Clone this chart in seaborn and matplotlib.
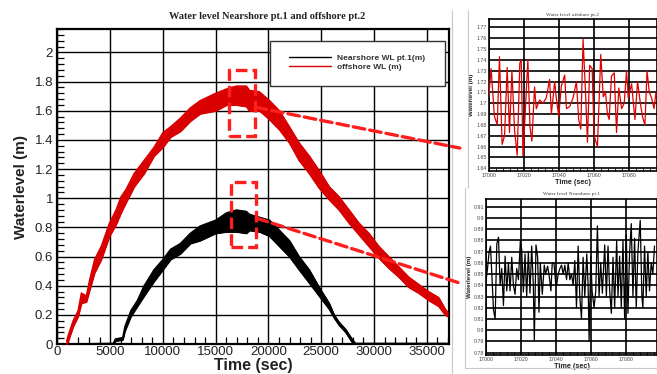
import matplotlib
matplotlib.use("Agg")
import numpy as np
import pandas as pd
import seaborn as sns
import matplotlib.pyplot as plt
from matplotlib.patches import Rectangle, ConnectionPatch
from matplotlib.lines import Line2D
from matplotlib.ticker import MultipleLocator, FuncFormatter

# ---------------- data ----------------
# offshore WL envelope (main chart)
off_t = [880, 1030, 1500, 1970, 2280, 2750, 3060, 3530, 4160, 4940,
         5560, 6030, 6500, 7280, 8220, 9160, 10000, 10720, 11660, 12600,
         13530, 15000, 16030, 16970, 17900, 18200, 19150, 20100, 21040, 21980,
         22900, 23860, 24800, 25750, 26690, 27630, 28570, 29510, 30460, 31400,
         32340, 33280, 34220, 35170, 36110, 36740, 36950]
off_lo = [0.00, 0.02, 0.12, 0.19, 0.28, 0.29, 0.37, 0.49, 0.58, 0.74,
          0.82, 0.90, 0.97, 1.08, 1.17, 1.29, 1.35, 1.42, 1.46, 1.53,
          1.58, 1.60, 1.64, 1.64, 1.63, 1.60, 1.60, 1.54, 1.47, 1.38,
          1.26, 1.17, 1.07, 0.99, 0.92, 0.83, 0.75, 0.67, 0.59, 0.52,
          0.46, 0.39, 0.35, 0.30, 0.26, 0.20, 0.19]
off_hi = [0.02, 0.06, 0.16, 0.23, 0.35, 0.33, 0.44, 0.58, 0.67, 0.83,
          0.92, 1.01, 1.06, 1.17, 1.26, 1.35, 1.45, 1.49, 1.55, 1.62,
          1.67, 1.72, 1.75, 1.77, 1.77, 1.74, 1.73, 1.67, 1.60, 1.49,
          1.38, 1.29, 1.19, 1.08, 1.01, 0.92, 0.83, 0.76, 0.67, 0.60,
          0.53, 0.46, 0.41, 0.36, 0.32, 0.24, 0.22]

# nearshore WL envelope (main chart)
near_t = [0, 5300, 5500, 6200, 6400, 6970, 7590, 8220, 9160, 10000,
          10720, 11660, 12600, 13530, 15000, 16030, 16970, 17900, 18200, 19150,
          20100, 21040, 21980, 22900, 23860, 24800, 25750, 26220, 26690, 27320,
          27950, 28260, 37000]
near_lo = [0, 0, 0.02, 0.03, 0.09, 0.19, 0.26, 0.33, 0.43, 0.51,
           0.58, 0.62, 0.69, 0.71, 0.76, 0.77, 0.77, 0.76, 0.78, 0.77,
           0.74, 0.67, 0.60, 0.51, 0.42, 0.33, 0.24, 0.18, 0.13, 0.08,
           0.01, 0, 0]
near_hi = [0, 0.005, 0.035, 0.045, 0.12, 0.23, 0.30, 0.40, 0.51, 0.58,
           0.65, 0.69, 0.76, 0.81, 0.85, 0.90, 0.92, 0.91, 0.89, 0.87,
           0.85, 0.78, 0.71, 0.60, 0.51, 0.39, 0.28, 0.20, 0.15, 0.10,
           0.03, 0.005, 0.005]

# zoomed offshore series (inset 1), seconds after 17000
zoom_t0 = 17000
off_zoom_dt = [0.0, 1.3, 3.2, 4.8, 6.1, 7.6, 9.0, 10.5, 11.8, 13.2,
               14.7, 16.2, 17.7, 18.5, 19.5, 20.6, 22.3, 23.5, 24.6, 26.1,
               27.1, 29.0, 30.9, 32.8, 34.7, 35.7, 37.6, 38.5, 39.9, 41.4,
               43.3, 44.3, 46.2, 48.1, 50.0, 51.3, 52.5, 53.8, 55.2, 56.3,
               57.6, 59.0, 60.1, 62.0, 63.9, 65.3, 66.6, 67.7, 68.7, 70.0,
               71.6, 72.9, 74.2, 75.8, 77.3, 78.6, 79.6, 81.5, 83.4, 84.9,
               86.5, 87.8, 89.1, 90.3, 91.6, 92.9, 94.3, 95.4]
off_zoom_wl = [1.706, 1.732, 1.688, 1.680, 1.743, 1.662, 1.670, 1.733, 1.673, 1.730,
               1.675, 1.652, 1.737, 1.740, 1.651, 1.685, 1.740, 1.678, 1.665, 1.715,
               1.695, 1.703, 1.700, 1.705, 1.722, 1.690, 1.720, 1.705, 1.688, 1.716,
               1.726, 1.695, 1.697, 1.705, 1.720, 1.685, 1.676, 1.759, 1.710, 1.664,
               1.735, 1.732, 1.670, 1.660, 1.745, 1.706, 1.710, 1.690, 1.685, 1.725,
               1.728, 1.673, 1.714, 1.695, 1.700, 1.730, 1.705, 1.718, 1.685, 1.720,
               1.700, 1.687, 1.680, 1.730, 1.710, 1.705, 1.695, 1.710]

# zoomed nearshore series (inset 2), seconds after 17000
near_zoom_dt = [0, 0.76, 1.71, 2.48, 3.24, 4.19, 5.14, 6.10, 7.05, 8.0,
                8.95, 9.90, 10.86, 11.81, 12.76, 13.71, 14.67, 15.62, 16.57, 17.52,
                18.48, 19.62, 20.38, 21.33, 22.29, 23.24, 24.19, 25.14, 26.10, 27.05,
                27.62, 28.57, 29.52, 30.29, 31.05, 32.19, 33.33, 34.10, 35.24, 36.19,
                37.14, 37.90, 38.86, 39.81, 40.38, 41.33, 42.29, 43.24, 44.19, 45.14,
                46.10, 47.05, 48.0, 48.95, 49.90, 50.86, 51.81, 52.76, 53.71, 54.67,
                55.62, 56.57, 57.71, 58.48, 59.05, 60.0, 60.76, 61.90, 62.86, 63.81,
                64.76, 65.71, 66.67, 68.0, 68.95, 69.90, 70.86, 71.81, 72.76, 73.71,
                74.86, 75.62, 76.57, 77.52, 78.48, 79.43, 80.38, 81.33, 82.29, 83.24,
                84.19, 85.14, 86.10, 87.05, 88.38, 89.33, 89.90, 90.86, 91.81, 92.76,
                93.71, 94.67, 95.62, 96.57]
near_zoom_wl = [0.845, 0.855, 0.870, 0.875, 0.850, 0.818, 0.810, 0.877, 0.883, 0.840,
                0.855, 0.822, 0.866, 0.835, 0.860, 0.835, 0.865, 0.840, 0.832, 0.855,
                0.845, 0.880, 0.872, 0.834, 0.868, 0.830, 0.870, 0.833, 0.875, 0.840,
                0.790, 0.876, 0.865, 0.816, 0.860, 0.832, 0.858, 0.850, 0.857, 0.848,
                0.835, 0.860, 0.860, 0.843, 0.840, 0.850, 0.855, 0.858, 0.850, 0.858,
                0.845, 0.860, 0.845, 0.850, 0.840, 0.862, 0.820, 0.875, 0.830, 0.810,
                0.865, 0.830, 0.868, 0.840, 0.790, 0.866, 0.835, 0.820, 0.835, 0.893,
                0.830, 0.860, 0.833, 0.876, 0.830, 0.875, 0.835, 0.815, 0.865, 0.820,
                0.880, 0.830, 0.866, 0.820, 0.880, 0.810, 0.885, 0.815, 0.870, 0.895,
                0.830, 0.882, 0.820, 0.870, 0.898, 0.830, 0.820, 0.875, 0.830, 0.870,
                0.835, 0.860, 0.850, 0.875]

# zoom windows marked on the main chart (time range, level range)
box_off = (16300, 18750, 1.43, 1.88)
box_near = (16450, 18850, 0.665, 1.11)
# where the dashed leaders leave the boxes
lead_off = (18750, 1.625)
lead_near = (18850, 0.864)

main_title = "Water level Nearshore pt.1 and offshore pt.2"
title_off = "Water level offshore pt.2"
title_near = "Water level Nearshore pt.1"
lab_near = "Nearshore WL pt.1(m)"
lab_off = "offshore WL (m)"

# ---------------- styling ----------------
sns.set_style("white")
plt.rcParams['font.family'] = ['Liberation Sans', 'DejaVu Sans']

RED = '#d80000'
DRED = '#ff1e1e'
fmt = FuncFormatter(lambda v, p: f"{v:g}")

fig = plt.figure(figsize=(6.57, 3.74), dpi=100)

# ---------------- main chart ----------------
ax = fig.add_axes([0.0872, 0.080, 0.5962, 0.842])
ax.fill_between(near_t, near_lo, near_hi, color='black', lw=0.8, zorder=3)
ax.fill_between(off_t, off_lo, off_hi, color=RED, lw=0.8, zorder=3)
sns.lineplot(x=near_t, y=near_hi, ax=ax, color='black', lw=1.0, label=lab_near, zorder=3)
sns.lineplot(x=near_t, y=near_lo, ax=ax, color='black', lw=1.0, zorder=3)
sns.lineplot(x=off_t, y=off_hi, ax=ax, color=RED, lw=1.0, label=lab_off, zorder=3)
sns.lineplot(x=off_t, y=off_lo, ax=ax, color=RED, lw=1.0, zorder=3)

ax.set_xlim(0, 37100)
ax.set_ylim(0, 2.16)
ax.xaxis.set_major_locator(MultipleLocator(5000))
ax.xaxis.set_minor_locator(MultipleLocator(1000))
ax.yaxis.set_major_locator(MultipleLocator(0.2))
ax.yaxis.set_minor_locator(MultipleLocator(0.04))
ax.xaxis.set_major_formatter(fmt)
ax.yaxis.set_major_formatter(fmt)
ax.grid(True, which='major', color='black', lw=1.0)
ax.tick_params(which='major', direction='in', length=0, labelsize=9.5,
               labelcolor='#222222', pad=3)
ax.tick_params(axis='x', which='major', pad=1.5)
ax.tick_params(which='minor', direction='in', length=5, width=0.9,
               left=True, bottom=True, color='black')
for s in ax.spines.values():
    s.set_color('black')
    s.set_linewidth(1.6)
ax.set_xlabel("Time (sec)", fontsize=11.5, fontweight='bold', labelpad=0, color='#222222')
ax.set_ylabel("Waterlevel (m)", fontsize=11, fontweight='bold', labelpad=5, color='#222222')

fig.text(0.406, 0.957, main_title, ha='center', va='center', fontsize=7.5,
         fontweight='bold', family=['Liberation Serif', 'DejaVu Serif'], color='#222222')

# legend box
ax.add_patch(Rectangle((0.543, 0.819), 0.446, 0.143, transform=ax.transAxes,
                       facecolor='white', edgecolor='#333333', lw=1.0, zorder=5))
h, l = ax.get_legend_handles_labels()
leg = ax.legend(h, l, loc='center', bbox_to_anchor=(0.766, 0.893), frameon=False,
                handlelength=5.0, handletextpad=0.8, labelspacing=0.15,
                prop={'weight': 'bold', 'size': 6})
leg.set_zorder(6)
for t in leg.get_texts():
    t.set_color('#333333')
for ln in leg.get_lines():
    ln.set_linewidth(1.0)

# dashed zoom boxes
for (x0, x1, y0, y1) in (box_off, box_near):
    ax.add_patch(Rectangle((x0, y0), x1 - x0, y1 - y0, fill=False, edgecolor=DRED,
                           lw=2.4, linestyle=(0, (3.5, 1.5)), zorder=7))

# ---------------- inset 1: offshore ----------------
ax1 = fig.add_axes([0.744, 0.543, 0.256, 0.406])
sns.lineplot(x=[zoom_t0 + d for d in off_zoom_dt], y=off_zoom_wl, ax=ax1,
             color='#e00000', lw=0.9, zorder=3)
ax1.set_xlim(17000, 17096)
ax1.set_ylim(1.6375, 1.7777)
ax1.set_title(title_off, fontsize=3.8, family=['Liberation Serif', 'DejaVu Serif'],
              pad=2.5, color='#333333')

# ---------------- inset 2: nearshore ----------------
ax2 = fig.add_axes([0.740, 0.051, 0.260, 0.417])
sns.lineplot(x=[zoom_t0 + d for d in near_zoom_dt], y=near_zoom_wl, ax=ax2,
             color='black', lw=0.9, zorder=3)
ax2.set_xlim(17000, 17098)
ax2.set_ylim(0.7779, 0.917)
ax2.set_title(title_near, fontsize=3.8, family=['Liberation Serif', 'DejaVu Serif'],
              pad=2.5, color='#333333')

for a in (ax1, ax2):
    a.xaxis.set_major_locator(MultipleLocator(20))
    a.xaxis.set_minor_locator(MultipleLocator(4))
    a.yaxis.set_major_locator(MultipleLocator(0.01))
    a.xaxis.set_major_formatter(fmt)
    a.yaxis.set_major_formatter(fmt)
    a.grid(True, which='major', color='black', lw=1.2)
    a.tick_params(which='major', direction='in', length=0, labelsize=3.8,
                  labelcolor='#444444', pad=1.5)
    a.tick_params(which='minor', direction='in', length=2, width=0.6,
                  bottom=True, color='black')
    for s in a.spines.values():
        s.set_color('black')
        s.set_linewidth(1.2)
    a.set_xlabel("Time (sec)", fontsize=5.2, fontweight='bold', labelpad=1, color='#222222')
    a.set_ylabel("Waterlevel (m)", fontsize=4.5, fontweight='bold', labelpad=1.5, color='#222222')

# ---------------- panel frames ----------------
for xs, ys in (([0.688, 0.688], [0.0, 0.973]),
               ([0.712, 0.712], [0.497, 0.973]),
               ([0.708, 0.708], [0.016, 0.497]),
               ([0.708, 1.0], [0.016, 0.016])):
    fig.add_artist(Line2D(xs, ys, transform=fig.transFigure, color='#c8c8c8', lw=0.8))

# ---------------- dashed leaders ----------------
for xy, end in ((lead_off, (0.700, 0.604)), (lead_near, (0.700, 0.243))):
    cp = ConnectionPatch(xyA=xy, coordsA='data', axesA=ax, xyB=end,
                         coordsB='figure fraction', color=DRED, lw=2.4,
                         linestyle=(0, (3.5, 1.5)), zorder=8)
    fig.add_artist(cp)

fig.savefig("out.png", dpi=100)
